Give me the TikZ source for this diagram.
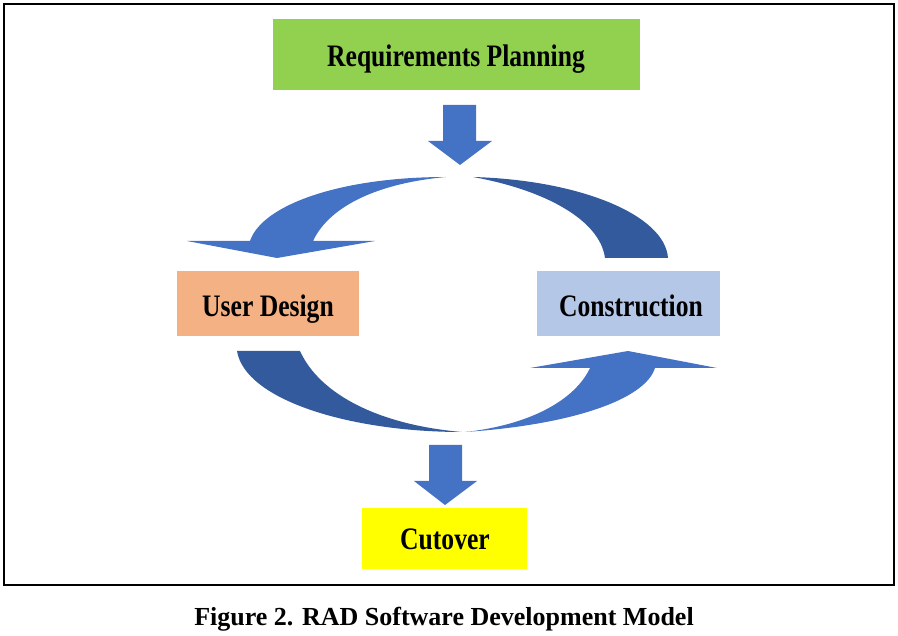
\documentclass[tikz,border=0pt]{standalone}
\usepackage{graphicx}
\usepackage{fontspec}
\setmainfont{Liberation Serif}
\definecolor{rpgreen}{HTML}{92D050}
\definecolor{udorange}{HTML}{F4B183}
\definecolor{cnblue}{HTML}{B4C7E7}
\definecolor{cuyellow}{HTML}{FFFF00}
\definecolor{arlight}{HTML}{4472C4}
\definecolor{ardark}{HTML}{335A9C}
\newcommand{\tallbf}[1]{\scalebox{1}[1.22]{\fontsize{25.6}{30}\selectfont\bfseries #1}}
\tikzset{
  phasebox/.style={draw=none, inner sep=0pt, anchor=center},
  phasetext/.style={inner sep=0pt, anchor=base},
  lightarrow/.style={fill=arlight, draw=none},
  darkarrow/.style={fill=ardark, draw=none}
}
\begin{document}
\begin{tikzpicture}[x=1pt,y=-1pt]
\useasboundingbox (0,0) rectangle (898,636);
\draw[line width=2.5pt] (4,4) rectangle (894,585);

% boxes
\node[phasebox, fill=rpgreen, minimum width=367pt, minimum height=71pt] (rp) at (456.5,54.5) {};
\node[phasebox, fill=udorange, minimum width=182pt, minimum height=65pt] (ud) at (268,303.5) {};
\node[phasebox, fill=cnblue, minimum width=183pt, minimum height=65pt] (cn) at (628.5,303.5) {};
\node[phasebox, fill=cuyellow, minimum width=165pt, minimum height=61pt] (cu) at (444.5,538.5) {};

% box texts
\node[phasetext] (rpt) at (456,67) {\tallbf{Requirements Planning}};
\node[phasetext] (udt) at (268,317) {\tallbf{User Design}};
\node[phasetext] (cnt) at (631,317) {\tallbf{Construction}};
\node[phasetext] (cut) at (445,550) {\tallbf{Cutover}};

% straight down arrows
\fill[lightarrow] (443,105) -- (476,105) -- (476,141) -- (492,141) -- (460,165) -- (428,141) -- (443,141) -- cycle;
\fill[lightarrow] (429,445) -- (462,445) -- (462,481) -- (477,481) -- (445,505) -- (414,481) -- (429,481) -- cycle;

% top-left curved arrow (to User Design)
\fill[lightarrow] (446,177) .. controls (340,177) and (262,205) .. (250,241)
  -- (187,241) -- (277,258) -- (375,241) -- (313,241)
  .. controls (330,205) and (380,183) .. (446,177) -- cycle;

% top-right curved arrow (from Construction)
\fill[darkarrow] (473,177) .. controls (580,180) and (665,215) .. (668,258)
  -- (605,258)
  .. controls (600,220) and (545,190) .. (473,177) -- cycle;

% bottom-left curved arrow (from User Design)
\fill[darkarrow] (237,351) -- (300,351)
  .. controls (320,395) and (380,425) .. (462,432)
  .. controls (350,432) and (245,400) .. (237,351) -- cycle;

% bottom-right curved arrow (to Construction)
\fill[lightarrow] (465,432) .. controls (570,425) and (645,400) .. (655,368)
  -- (717,368) -- (628,351) -- (530,368) -- (590,368)
  .. controls (575,400) and (530,425) .. (465,432) -- cycle;

% caption
\node[anchor=base, inner sep=0pt] (cap) at (444,625) {\fontsize{26}{30}\selectfont\bfseries Figure 2. RAD Software Development Model};
\end{tikzpicture}
\end{document}
